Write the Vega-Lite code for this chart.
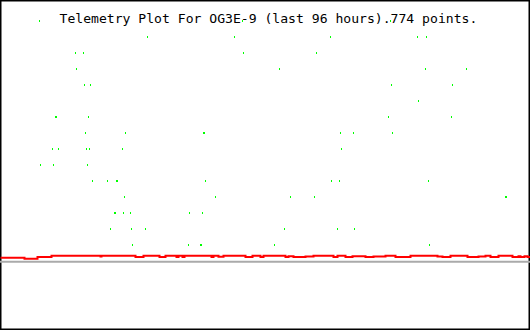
{
  "$schema": "https://vega.github.io/schema/vega-lite/v6.json",
  "width": 530,
  "height": 330,
  "padding": 0,
  "autosize": {"type": "none"},
  "background": "white",
  "config": {"view": {"stroke": "#000000", "strokeWidth": 3}},
  "title": {
    "text": "Telemetry Plot For OG3E-9 (last 96 hours).774 points.",
    "font": "DejaVu Sans Mono",
    "fontSize": 13.1,
    "fontWeight": "normal",
    "color": "#000000",
    "anchor": "start",
    "frame": "group",
    "orient": "top",
    "offset": 0,
    "baseline": "alphabetic",
    "dx": 59.5,
    "dy": 36,
    "zindex": -1
  },
  "datasets": {
    "limit": [{"v": 68.3}],
    "trace": [
      {"t": 0, "v": 72.3}, {"t": 24, "v": 71.3}, {"t": 37, "v": 73}, {"t": 51, "v": 74.3},
      {"t": 100, "v": 73.5}, {"t": 101, "v": 74.3}, {"t": 135, "v": 73}, {"t": 143, "v": 74.3},
      {"t": 159, "v": 73}, {"t": 165, "v": 74.3}, {"t": 176, "v": 73}, {"t": 178, "v": 74.3},
      {"t": 182, "v": 73}, {"t": 184, "v": 74.3}, {"t": 211, "v": 73}, {"t": 213, "v": 74.3},
      {"t": 218, "v": 73.3}, {"t": 223, "v": 74.3}, {"t": 245, "v": 73}, {"t": 252, "v": 74.3},
      {"t": 260, "v": 73}, {"t": 263, "v": 74.3}, {"t": 285, "v": 73}, {"t": 288, "v": 73.8},
      {"t": 293, "v": 73}, {"t": 305, "v": 73.5}, {"t": 313, "v": 74.3}, {"t": 333, "v": 73},
      {"t": 337, "v": 74.3}, {"t": 345, "v": 73}, {"t": 352, "v": 73.8}, {"t": 365, "v": 73},
      {"t": 373, "v": 73.5}, {"t": 385, "v": 74.3}, {"t": 395, "v": 73}, {"t": 410, "v": 74.3},
      {"t": 437, "v": 73.5}, {"t": 442, "v": 73}, {"t": 450, "v": 74.3}, {"t": 467, "v": 73},
      {"t": 478, "v": 73.5}, {"t": 485, "v": 74.3}, {"t": 490, "v": 73}, {"t": 498, "v": 74.3},
      {"t": 512, "v": 73}, {"t": 518, "v": 73.8}, {"t": 520, "v": 73}, {"t": 524, "v": 73.8},
      {"t": 527, "v": 73}, {"t": 530, "v": 73}
    ],
    "points": [
      {"t": 39, "v": 309}, {"t": 242, "v": 309}, {"t": 390, "v": 309},
      {"t": 147, "v": 293}, {"t": 234, "v": 293}, {"t": 330, "v": 293}, {"t": 417, "v": 293}, {"t": 426, "v": 293},
      {"t": 75, "v": 277}, {"t": 83, "v": 277}, {"t": 243, "v": 277}, {"t": 316, "v": 277},
      {"t": 76, "v": 261}, {"t": 279, "v": 261}, {"t": 425, "v": 261}, {"t": 466, "v": 261},
      {"t": 84, "v": 245}, {"t": 90, "v": 245}, {"t": 391, "v": 245}, {"t": 452, "v": 245},
      {"t": 418, "v": 229},
      {"t": 55, "v": 213}, {"t": 56, "v": 213}, {"t": 88, "v": 213}, {"t": 388, "v": 213}, {"t": 451, "v": 213},
      {"t": 85, "v": 197}, {"t": 125, "v": 197}, {"t": 203, "v": 197}, {"t": 204, "v": 197}, {"t": 340, "v": 197}, {"t": 353, "v": 197}, {"t": 392, "v": 197},
      {"t": 52, "v": 181}, {"t": 58, "v": 181}, {"t": 86, "v": 181}, {"t": 89, "v": 181}, {"t": 122, "v": 181}, {"t": 341, "v": 181},
      {"t": 40, "v": 165}, {"t": 53, "v": 165}, {"t": 87, "v": 165},
      {"t": 92, "v": 149}, {"t": 107, "v": 149}, {"t": 116, "v": 149}, {"t": 117, "v": 149}, {"t": 205, "v": 149}, {"t": 331, "v": 149}, {"t": 339, "v": 149}, {"t": 428, "v": 149},
      {"t": 124, "v": 133}, {"t": 215, "v": 133}, {"t": 290, "v": 133}, {"t": 314, "v": 133}, {"t": 505, "v": 133}, {"t": 506, "v": 133},
      {"t": 114, "v": 117}, {"t": 115, "v": 117}, {"t": 123, "v": 117}, {"t": 130, "v": 117}, {"t": 189, "v": 117}, {"t": 202, "v": 117},
      {"t": 110, "v": 101}, {"t": 131, "v": 101}, {"t": 145, "v": 101}, {"t": 284, "v": 101}, {"t": 337, "v": 101}, {"t": 354, "v": 101},
      {"t": 132, "v": 85}, {"t": 188, "v": 85}, {"t": 200, "v": 85}, {"t": 201, "v": 85}, {"t": 274, "v": 85}, {"t": 429, "v": 85}
    ]
  },
  "layer": [
    {
      "data": {"name": "limit"},
      "mark": {"type": "rule", "color": "#aaaaaa", "strokeWidth": 2},
      "encoding": {
        "y": {"field": "v", "type": "quantitative", "scale": {"domain": [0, 330], "nice": false, "zero": false}, "axis": null}
      }
    },
    {
      "data": {"name": "trace"},
      "mark": {"type": "line", "interpolate": "step-after", "color": "#ff0000", "strokeWidth": 2},
      "encoding": {
        "x": {"field": "t", "type": "quantitative", "scale": {"domain": [-0.5, 529.5], "nice": false, "zero": false}, "axis": null},
        "y": {"field": "v", "type": "quantitative", "scale": {"domain": [0, 330], "nice": false, "zero": false}, "axis": null}
      }
    },
    {
      "data": {"name": "points"},
      "mark": {"type": "tick", "orient": "vertical", "color": "#00ff00", "thickness": 1, "size": 2, "opacity": 1},
      "encoding": {
        "x": {"field": "t", "type": "quantitative", "scale": {"domain": [-0.5, 529.5], "nice": false, "zero": false}, "axis": null},
        "y": {"field": "v", "type": "quantitative", "scale": {"domain": [0, 330], "nice": false, "zero": false}, "axis": null}
      }
    }
  ]
}
